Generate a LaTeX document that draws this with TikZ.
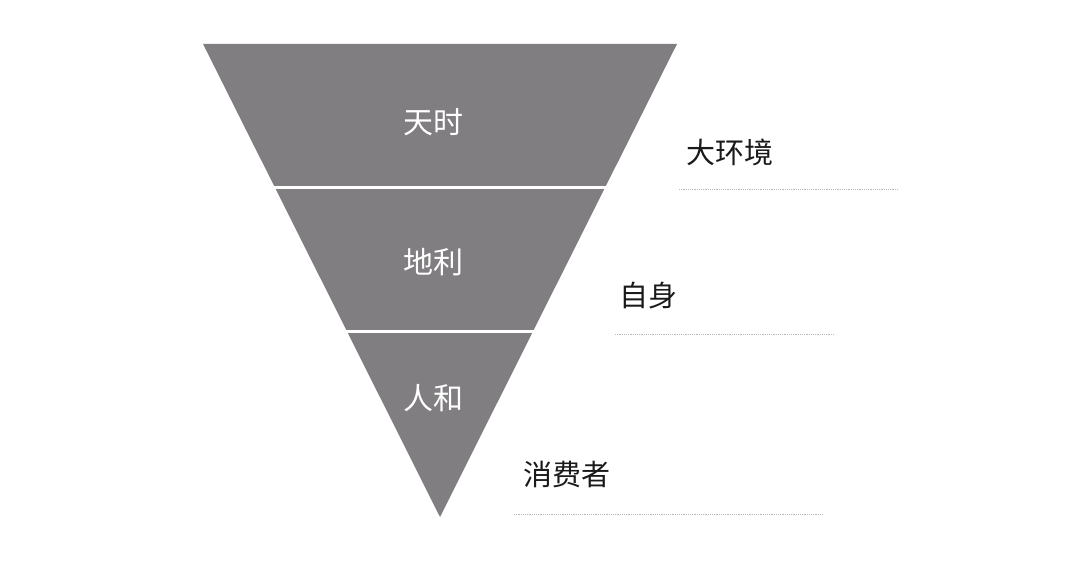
\documentclass[tikz,border=0pt]{standalone}
\usepackage{fontspec}
\newfontfamily\cjk{Noto Sans CJK SC}
\definecolor{tri}{HTML}{807E80}
\definecolor{dotc}{HTML}{B8B8B8}
\definecolor{txt}{HTML}{1A1A1A}
\begin{document}
\begin{tikzpicture}[x=1pt,y=-1pt,
  inlabel/.style={text=white,font=\cjk\fontsize{30}{30}\selectfont,inner sep=0pt},
  outlabel/.style={text=txt,font=\cjk\fontsize{29}{29}\selectfont,inner sep=0pt},
  dotline/.style={dotc,line width=0.9pt,dash pattern=on 1.2pt off 1pt}]
\useasboundingbox[fill=white] (0,0) rectangle (1080,564);
% triangle
\coordinate (tl) at (203,44);
\coordinate (tr) at (677,44);
\coordinate (ap) at (440,517);
\fill[tri] (tl) -- (tr) -- (ap) -- cycle;
% separators
\coordinate (s1l) at (274,188);
\coordinate (s1r) at (606,188);
\coordinate (s2l) at (346,332);
\coordinate (s2r) at (534,332);
\draw[white,line width=3pt] (s1l) -- (s1r);
\draw[white,line width=3pt] (s2l) -- (s2r);
% inner labels
\node[inlabel] (tianshi) at (433,122) {天时};
\node[inlabel] (dili) at (433,262) {地利};
\node[inlabel] (renhe) at (433,398) {人和};
% outer labels
\node[outlabel,anchor=west] (dahuanjing) at (686,152) {大环境};
\node[outlabel,anchor=west] (zishen) at (619,296) {自身};
\node[outlabel,anchor=west] (xiaofeizhe) at (523,474) {消费者};
% dotted lines
\coordinate (d1a) at (679,189);
\coordinate (d1b) at (898,189);
\coordinate (d2a) at (615,334);
\coordinate (d2b) at (834,334);
\coordinate (d3a) at (514,514);
\coordinate (d3b) at (823,514);
\draw[dotline] (d1a) -- (d1b);
\draw[dotline] (d2a) -- (d2b);
\draw[dotline] (d3a) -- (d3b);
\end{tikzpicture}
\end{document}
